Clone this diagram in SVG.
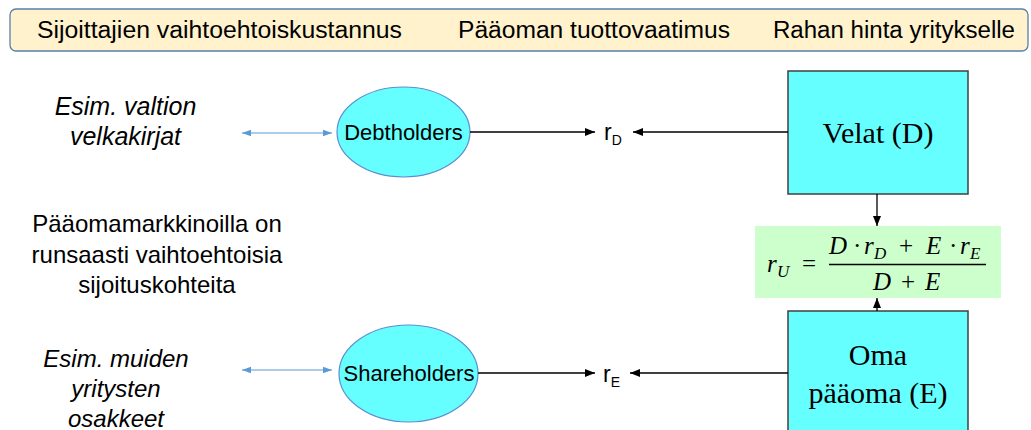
<svg xmlns="http://www.w3.org/2000/svg" width="1031" height="430" viewBox="0 0 1031 430">
<style>
.sans{font-family:"Liberation Sans",Arial,sans-serif;fill:#000}
.serif{font-family:"Liberation Serif","Times New Roman",serif;fill:#000}
.it{font-style:italic}
.box{fill:#66FFFF;stroke:#404040;stroke-width:1.5}
.ell{fill:#66FFFF;stroke:#5B8FD0;stroke-width:1.2}
.blk{stroke:#000;stroke-width:1.3;fill:none}
.blu{stroke:#5B9BD5;stroke-width:1.2;fill:none}
</style>
<defs>
<marker id="ah" viewBox="0 0 10 10" refX="10" refY="5" markerWidth="10" markerHeight="10" markerUnits="userSpaceOnUse" orient="auto">
<path d="M0,1 L10,5 L0,9 Z" fill="#000"/>
</marker>
<marker id="bh" viewBox="0 0 10 10" refX="10" refY="5" markerWidth="9" markerHeight="9" markerUnits="userSpaceOnUse" orient="auto-start-reverse">
<path d="M0,1.5 L10,5 L0,8.5 Z" fill="#5B9BD5"/>
</marker>
</defs>

<g id="header">
<rect x="10" y="9" width="1018" height="42" rx="6" ry="6" fill="#FFF2CC" stroke="#5B7FA6" stroke-width="1.3"/>
<text class="sans" x="37" y="38" font-size="23" textLength="365" lengthAdjust="spacingAndGlyphs">Sijoittajien vaihtoehtoiskustannus</text>
<text class="sans" x="458" y="38" font-size="23" textLength="272" lengthAdjust="spacingAndGlyphs">Pääoman tuottovaatimus</text>
<text class="sans" x="773" y="38" font-size="23" textLength="242" lengthAdjust="spacingAndGlyphs">Rahan hinta yritykselle</text>
</g>

<g id="alt-debt">
<text class="sans it" text-anchor="middle" font-size="25"><tspan x="125.5" y="115">Esim. valtion</tspan><tspan x="125.5" y="145">velkakirjat</tspan></text>
</g>

<g id="market">
<text class="sans" text-anchor="middle" font-size="24"><tspan x="157" y="232">Pääomamarkkinoilla on</tspan><tspan x="157" y="263">runsaasti vaihtoehtoisia</tspan><tspan x="157" y="293">sijoituskohteita</tspan></text>
</g>

<g id="alt-equity">
<text class="sans it" text-anchor="middle" font-size="24"><tspan x="116" y="367">Esim. muiden</tspan><tspan x="116" y="397">yritysten</tspan><tspan x="116" y="427">osakkeet</tspan></text>
</g>

<g id="debtholders">
<ellipse class="ell" cx="403.5" cy="132" rx="66.5" ry="45"/>
<text class="sans" x="403.5" y="140" font-size="22" text-anchor="middle">Debtholders</text>
</g>

<g id="shareholders">
<ellipse class="ell" cx="408.5" cy="373.5" rx="69.5" ry="48.5"/>
<text class="sans" x="409" y="381" font-size="22" text-anchor="middle">Shareholders</text>
</g>

<g id="rD">
<text class="sans" x="604" y="140" font-size="23">r<tspan font-size="14" dy="5">D</tspan></text>
</g>
<g id="rE">
<text class="sans" x="603" y="382" font-size="23">r<tspan font-size="14" dy="5">E</tspan></text>
</g>

<g id="velat">
<rect class="box" x="788" y="71" width="180" height="123"/>
<text class="serif" x="878" y="143" font-size="30" text-anchor="middle">Velat (D)</text>
</g>

<g id="oma">
<rect class="box" x="788" y="311" width="180" height="130"/>
<text class="serif" text-anchor="middle" font-size="30"><tspan x="878" y="365">Oma</tspan><tspan x="878" y="403">pääoma (E)</tspan></text>
</g>

<g id="formula">
<rect x="755" y="226" width="246" height="72" fill="#CCFFCC"/>
<g class="serif" font-size="25">
<text class="it" x="767" y="272">r</text>
<text class="it" x="777" y="277" font-size="17">U</text>
<text x="802" y="272">=</text>
<text class="it" x="829" y="254">D</text>
<text x="853" y="254">·</text>
<text class="it" x="864" y="254">r</text>
<text class="it" x="874" y="259" font-size="17">D</text>
<text x="899" y="254">+</text>
<text class="it" x="926" y="254">E</text>
<text x="949" y="254">·</text>
<text class="it" x="960" y="254">r</text>
<text class="it" x="970" y="259" font-size="17">E</text>
<line x1="829" y1="264.5" x2="986" y2="264.5" stroke="#000" stroke-width="1.5"/>
<text class="it" x="873" y="290">D</text>
<text x="901" y="290">+</text>
<text class="it" x="925" y="290">E</text>
</g>
</g>

<g id="connectors">
<line class="blu" x1="242" y1="133" x2="332" y2="133" marker-start="url(#bh)" marker-end="url(#bh)"/>
<line class="blu" x1="242" y1="370" x2="332" y2="370" marker-start="url(#bh)" marker-end="url(#bh)"/>
<line class="blk" x1="470" y1="132" x2="595" y2="132" marker-end="url(#ah)"/>
<line class="blk" x1="788" y1="132" x2="633" y2="132" marker-end="url(#ah)"/>
<line class="blk" x1="478" y1="373" x2="595" y2="373" marker-end="url(#ah)"/>
<line class="blk" x1="788" y1="373" x2="630" y2="373" marker-end="url(#ah)"/>
<line class="blk" x1="877" y1="194" x2="877" y2="226" marker-end="url(#ah)"/>
<line class="blk" x1="877" y1="311" x2="877" y2="298" marker-end="url(#ah)"/>
</g>
</svg>
